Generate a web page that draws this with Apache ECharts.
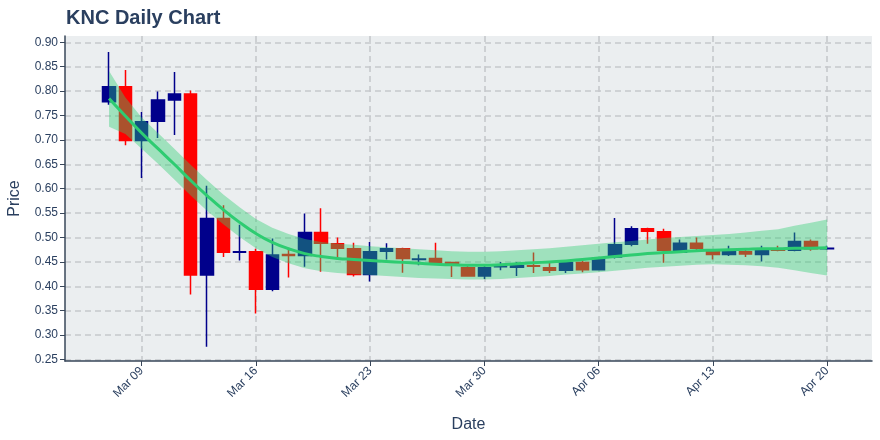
<!DOCTYPE html>
<html>
<head>
<meta charset="utf-8">
<script src="https://cdn.jsdelivr.net/npm/echarts@6/dist/echarts.min.js"></script>
<style>html,body{margin:0;padding:0;background:#fff}#c{width:880px;height:440px}</style>
</head>
<body>
<div id="c"></div>
<script>
// Dates (day index 0 = Mar 07)
const dates = ['Mar 07','Mar 08','Mar 09','Mar 10','Mar 11','Mar 12','Mar 13','Mar 14','Mar 15','Mar 16','Mar 17','Mar 18','Mar 19','Mar 20','Mar 21','Mar 22','Mar 23','Mar 24','Mar 25','Mar 26','Mar 27','Mar 28','Mar 29','Mar 30','Mar 31','Apr 01','Apr 02','Apr 03','Apr 04','Apr 05','Apr 06','Apr 07','Apr 08','Apr 09','Apr 10','Apr 11','Apr 12','Apr 13','Apr 14','Apr 15','Apr 16','Apr 17','Apr 18','Apr 19','Apr 20'];
const open  = [0.778,0.809,0.699,0.738,0.782,0.794,0.423,0.539,0.470,0.471,0.394,0.465,0.463,0.510,0.487,0.477,0.424,0.472,0.477,0.455,0.457,0.449,0.438,0.421,0.440,0.439,0.442,0.438,0.433,0.449,0.434,0.460,0.486,0.518,0.512,0.470,0.488,0.473,0.465,0.471,0.465,0.477,0.474,0.492,0.477];
const close = [0.809,0.699,0.737,0.782,0.794,0.423,0.539,0.470,0.471,0.394,0.464,0.463,0.510,0.488,0.478,0.424,0.471,0.477,0.457,0.456,0.449,0.445,0.421,0.438,0.441,0.442,0.441,0.433,0.449,0.434,0.457,0.485,0.518,0.513,0.474,0.488,0.478,0.465,0.471,0.466,0.477,0.474,0.492,0.477,0.478];
const low   = [0.772,0.689,0.622,0.704,0.710,0.383,0.276,0.460,0.453,0.344,0.390,0.418,0.440,0.430,0.455,0.420,0.410,0.455,0.428,0.443,0.447,0.419,0.420,0.415,0.433,0.421,0.427,0.427,0.427,0.429,0.433,0.457,0.482,0.487,0.448,0.468,0.471,0.455,0.462,0.460,0.451,0.472,0.472,0.473,0.475];
const high  = [0.880,0.843,0.757,0.799,0.839,0.801,0.606,0.566,0.526,0.477,0.498,0.478,0.549,0.560,0.500,0.489,0.491,0.488,0.479,0.465,0.489,0.450,0.445,0.445,0.450,0.450,0.469,0.448,0.453,0.454,0.460,0.540,0.523,0.520,0.518,0.496,0.500,0.475,0.483,0.477,0.483,0.483,0.510,0.496,0.483];
const trend = [0.785,0.749,0.714,0.682,0.650,0.617,0.586,0.557,0.531,0.508,0.490,0.477,0.467,0.461,0.457,0.455,0.453,0.451,0.449,0.447,0.445,0.444,0.443,0.443,0.444,0.446,0.448,0.450,0.452,0.455,0.458,0.461,0.464,0.467,0.469,0.471,0.473,0.474,0.475,0.476,0.477,0.477,0.478,0.478,0.479];
const upper = [0.841,0.787,0.746,0.714,0.682,0.649,0.618,0.588,0.562,0.538,0.520,0.507,0.497,0.491,0.487,0.485,0.482,0.480,0.478,0.476,0.474,0.472,0.471,0.471,0.472,0.474,0.476,0.478,0.481,0.484,0.487,0.490,0.493,0.496,0.499,0.501,0.503,0.505,0.507,0.510,0.514,0.517,0.524,0.530,0.537];
const lower = [0.727,0.712,0.682,0.651,0.619,0.586,0.555,0.527,0.501,0.478,0.460,0.447,0.437,0.431,0.427,0.425,0.423,0.421,0.419,0.417,0.416,0.415,0.414,0.414,0.415,0.417,0.419,0.421,0.424,0.426,0.429,0.432,0.435,0.438,0.440,0.442,0.444,0.445,0.444,0.443,0.441,0.438,0.433,0.427,0.422];
const xTickLabels = ['Mar 09','Mar 16','Mar 23','Mar 30','Apr 06','Apr 13','Apr 20'];
const xTickDays = [2,9,16,23,30,37,44];
const yTicks = [0.25,0.30,0.35,0.40,0.45,0.50,0.55,0.60,0.65,0.70,0.75,0.80,0.85,0.90];

const candleData = dates.map((d,i)=>[i, open[i], close[i], low[i], high[i]]);
const bandData = dates.map((d,i)=>[i, lower[i], upper[i]]);
const trendData = dates.map((d,i)=>[i, trend[i]]);

const textColor = '#2a3f5f';
const lineColor = '#39475a';
const font = 'Liberation Sans, Arial, sans-serif';
const gridLine = {show:true, lineStyle:{color:'#c6c9cc', width:1.6, type:[6,4]}};

const chart = echarts.init(document.getElementById('c'), null, {renderer:'canvas'});
chart.setOption({
  animation:false,
  backgroundColor:'#ffffff',
  title:{text:'KNC Daily Chart', left:61, top:3, textStyle:{fontFamily:font, fontSize:20, fontWeight:'bold', color:textColor}},
  grid:{left:65, right:8, top:36, bottom:79, show:true, backgroundColor:'#ebeef0', borderWidth:0, containLabel:false, outerBoundsMode:'none'},
  xAxis:{
    type:'value', min:-2.70, max:46.75,
    name:'Date', nameLocation:'middle', nameGap:56,
    nameTextStyle:{fontFamily:font, fontSize:16, color:textColor},
    axisLine:{show:true, onZero:false, lineStyle:{color:lineColor, width:1.5}},
    axisTick:{show:true, length:5, lineStyle:{color:lineColor}, customValues:xTickDays},
    axisLabel:{customValues:xTickDays, rotate:45, margin:8, fontFamily:font, fontSize:12, color:textColor,
      formatter:(v)=>{const k=xTickDays.indexOf(Math.round(v)); return k>=0?xTickLabels[k]:'';}},
    splitLine:gridLine
  },
  yAxis:{
    type:'value', min:0.2469, max:0.9129,
    name:'Price', nameLocation:'middle', nameGap:42,
    nameTextStyle:{fontFamily:font, fontSize:16, color:textColor},
    axisLine:{show:true, onZero:false, lineStyle:{color:lineColor, width:1.5}},
    axisTick:{show:true, length:5, lineStyle:{color:lineColor}, customValues:yTicks},
    axisLabel:{customValues:yTicks, margin:7, fontFamily:font, fontSize:12, color:textColor,
      formatter:(v)=>v.toFixed(2)},
    splitLine:gridLine
  },
  series:[
    {type:'candlestick', data:candleData, encode:{x:0, y:[1,2,3,4]}, barWidth:13, z:2,
     itemStyle:{color:'#00008b', color0:'#ff0000', borderColor:'#00008b', borderColor0:'#ff0000', borderWidth:1.5}},
    {type:'custom', data:bandData, encode:{x:0, y:[1,2]}, z:3, silent:true, clip:true,
     renderItem:(params, api)=>{
       if (params.dataIndex !== 0) return null;
       const n = bandData.length;
       const pts = [];
       for (let i=0;i<n;i++) pts.push(api.coord([bandData[i][0], bandData[i][2]]));
       for (let i=n-1;i>=0;i--) pts.push(api.coord([bandData[i][0], bandData[i][1]]));
       return {type:'polygon', shape:{points:pts}, style:{fill:'rgba(46,204,113,0.4)', stroke:null}};
     }},
    {type:'line', data:trendData, smooth:true, symbol:'none', z:4, lineStyle:{color:'#2ecc71', width:3}}
  ]
});
</script>
</body>
</html>
